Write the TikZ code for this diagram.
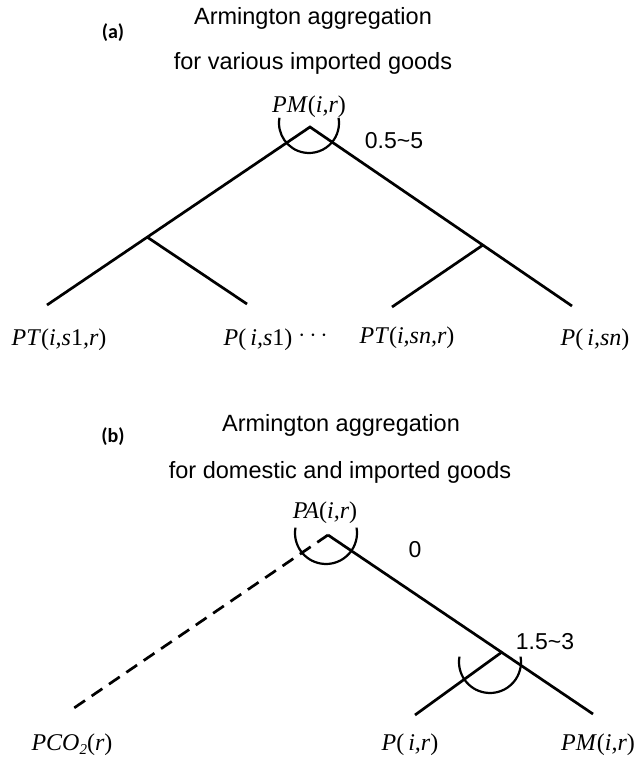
\documentclass[tikz,border=0pt]{standalone}
\usepackage{fontspec}
\setmainfont{Liberation Serif}
\setsansfont{Liberation Sans}
\newfontfamily\tagfont{Carlito}
\usetikzlibrary{positioning}

\begin{document}
\begin{tikzpicture}[x=1pt, y=-1pt, line width=2.7pt,
  every node/.style={inner sep=0pt},
  title/.style={font=\sffamily\fontsize{23.5}{28}\selectfont},
  tag/.style={font=\tagfont\bfseries\fontsize{20}{24}\selectfont},
  price/.style={font=\fontsize{24}{28}\selectfont},
  elas/.style={font=\sffamily\fontsize{23}{28}\selectfont},
  nest/.style={line width=2.2pt},
  co2/.style={dash pattern=on 13pt off 8pt}]
\useasboundingbox (0,0) rectangle (641,759);

% (a) imported goods
\node [tag] (tag-a) at (113,33) {(a)};
\node [title] (title-a1) at (313,18) {Armington aggregation};
\node [title] (title-a2) at (313,63) {for various imported goods};
\node [price] (pm-a) at (309,107) {\textit{PM}(\textit{i,r})};

\coordinate (a-top) at (310,127);
\coordinate (a-br1) at (147,237);
\coordinate (a-br2) at (483,245);
\coordinate (a-leaf1) at (47,305);
\coordinate (a-leaf2) at (247,304);
\coordinate (a-leaf3) at (392,307);
\coordinate (a-leaf4) at (572,306);
\coordinate (a-arc) at (309,123);

\draw (a-leaf1) -- (a-top) -- (a-leaf4);
\draw (a-br1) -- (a-leaf2);
\draw (a-br2) -- (a-leaf3);
\draw [nest] (a-arc) ++(190:30) arc (190:-10:30);
\node [elas] (sigma-a) at (394,141) {0.5\textasciitilde5};

% names of the source regions
\foreach \x/\y/\t [count=\i] in {59/340/{\textit{PT}(\textit{i,s}1\textit{,r})},
    258/340/{\textit{P}(\,\textit{i,s}1)},
    407/338/{\textit{PT}(\textit{i,sn,r})},
    595/340/{\textit{P}(\,\textit{i,sn})}}
  \node [price] (a-name\i) at (\x,\y) {\t};
\node [price] (dots) at (313,336) {$\cdots$};

% (b) domestic and imported goods
\node [tag] (tag-b) at (113,437) {(b)};
\node [title] (title-b1) at (341,425) {Armington aggregation};
\node [title] (title-b2) at (340,472) {for domestic and imported goods};
\node [price] (pa-b) at (325,513) {\textit{PA}(\textit{i,r})};

\coordinate (b-top) at (328,535);
\coordinate (b-br) at (502,652);
\coordinate (b-co2) at (74,708);
\coordinate (b-dom) at (415,715);
\coordinate (b-imp) at (593,714);
\coordinate (b-arc1) at (326,533);
\coordinate (b-arc2) at (490,662);

\draw [co2] (b-top) -- (b-co2);
\draw (b-top) -- (b-imp);
\draw (b-br) -- (b-dom);
\draw [nest] (b-arc1) ++(190:31) arc (190:-10:31);
\draw [nest] (b-arc2) ++(190:31) arc (190:-10:31);
\node [elas] (sigma-b1) at (415,550) {0};
\node [elas] (sigma-b2) at (545,642) {1.5\textasciitilde3};

\node [price] (b-name1) at (72,745) {\textit{PCO}\raisebox{-0.3ex}{\itshape\fontsize{15}{18}\selectfont 2}(\textit{r})};
\node [price] (b-name2) at (410,745) {\textit{P}(\,\textit{i,r})};
\node [price] (b-name3) at (598,745) {\textit{PM}(\textit{i,r})};
\end{tikzpicture}
\end{document}
